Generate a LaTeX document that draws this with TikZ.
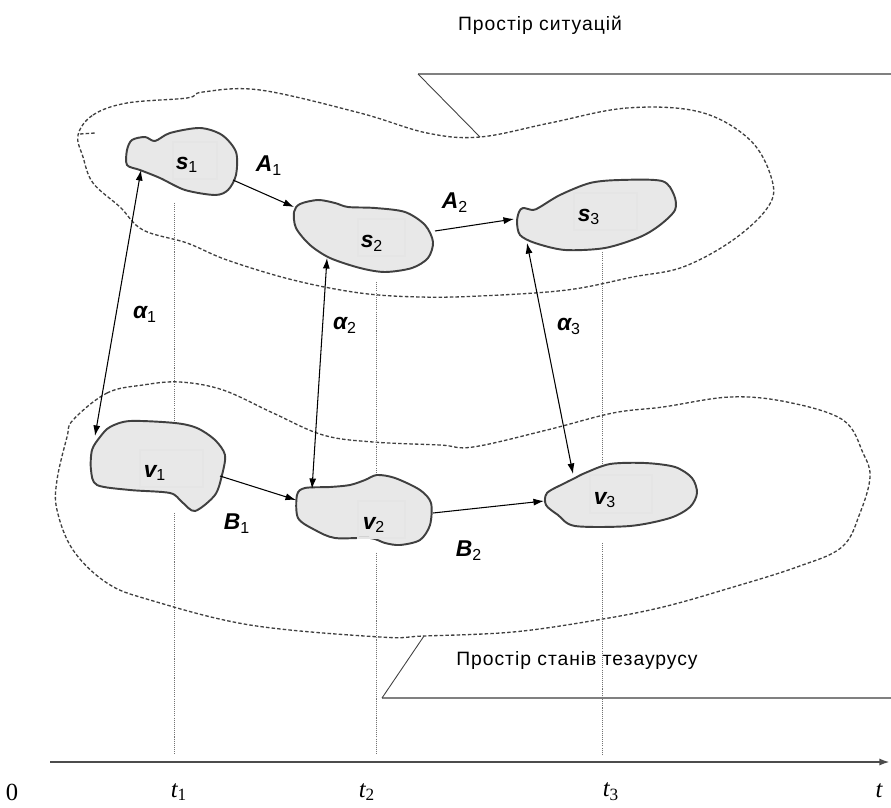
\documentclass[tikz,border=0pt]{standalone}
\usepackage{fontspec}
\setmainfont{Liberation Sans}
\newfontfamily\timefont{Liberation Serif}
\newfontfamily\capfont[LetterSpace=5]{Liberation Sans}
\usetikzlibrary{arrows.meta}
\newcommand{\idx}[1]{\textsubscript{\mdseries\upshape #1}}
\begin{document}
\begin{tikzpicture}[x=0.02cm,y=-0.02cm,>={Latex[length=6pt,width=4pt]},
	blob/.style={draw=black!75,line width=1.1pt,fill=gray!18},
	region/.style={draw=black!75,line width=0.75pt,dash pattern=on 2pt off 1.2pt},
	timeline/.style={draw=black!55,line width=0.5pt,dash pattern=on 0.6pt off 0.6pt},
	lblbox/.style={draw=white!90!black,line width=0.6pt},
	conn/.style={line width=0.6pt},
	lbl/.style={font=\fontsize{13}{15}\selectfont\bfseries\itshape,inner sep=0pt},
	caption/.style={font=\capfont\fontsize{11}{13}\selectfont,inner sep=0pt},
	tick/.style={font=\timefont\fontsize{14}{16}\selectfont\itshape,inner sep=0pt}]
	\useasboundingbox (0,0) rectangle (891,807);

	\draw[region] plot[smooth cycle,tension=0.6] coordinates {(78,135) (93,115) (127,103) (187,98) (203,92) (260,90) (360,113) (427,133) (480,137) (550,123) (627,108) (700,112) (750,140) (772,180) (768,207) (733,240) (683,267) (633,277) (567,290) (480,296) (420,297) (360,293) (293,280) (227,260) (187,243) (143,230) (120,207) (93,183) (83,157)};
	\draw[region] (80,134) -- (95,133);
	\draw[region] plot[smooth cycle,tension=0.6] coordinates {(73,420) (107,393) (143,385) (180,382) (223,390) (273,413) (323,435) (373,442) (440,445) (473,447) (547,430) (613,413) (663,407) (730,397) (787,402) (843,420) (863,453) (870,477) (860,513) (842,547) (797,567) (730,588) (663,607) (597,620) (513,632) (424,636) (380,637) (250,625) (150,600) (107,583) (73,550) (57,510) (57,480) (67,437)};

	\coordinate (capup)		at (418,74);
	\coordinate (capupend)	at (891,74);
	\coordinate (capuptip)	at (480,137);
	\coordinate (capdn)		at (382,698);
	\coordinate (capdnend)	at (891,698);
	\coordinate (capdntip)	at (424,636);
	\draw[draw=black!50,line width=1.1pt] (capup) -- (capupend);
	\draw[draw=black!75,line width=0.5pt] (capup) -- (capuptip);
	\draw[draw=black!50,line width=1.1pt] (capdn) -- (capdnend);
	\draw[draw=black!75,line width=0.5pt] (capdn) -- (capdntip);
	\node (sitspace)	at (540,25) [caption] {Простір ситуацій};
	\node (thesspace)	at (577,660) [caption] {Простір станів тезаурусу};

	\draw[timeline] (174,203) -- (174,433) (174,513) -- (174,755);
	\draw[timeline] (376,282) -- (376,485) (376,553) -- (376,755);
	\draw[timeline] (602,252) -- (602,470) (602,543) -- (602,755);

	\draw[blob] plot[smooth cycle,tension=0.5] coordinates {(127,150) (132,140) (145,137) (155,141) (170,133) (200,128) (222,135) (236,152) (236,175) (228,190) (215,195) (185,190) (160,178) (140,170) (127,165)};
	\draw[blob] plot[smooth cycle,tension=0.5] coordinates {(294,212) (300,204) (318,200) (335,203) (348,207) (375,208) (405,212) (425,225) (433,242) (428,258) (412,268) (385,272) (360,268) (330,258) (310,245) (296,228)};
	\draw[blob] plot[smooth cycle,tension=0.5] coordinates {(519,212) (523,208) (533,210) (540,207) (560,195) (590,183) (620,180) (662,181) (674,195) (675,210) (660,225) (640,237) (605,248) (565,250) (535,243) (520,235) (517,222)};
	\draw[blob] plot[smooth cycle,tension=0.5] coordinates {(92,450) (100,437) (110,427) (130,421) (175,423) (197,428) (215,440) (225,455) (222,475) (215,495) (195,511) (182,502) (170,493) (130,490) (97,485) (91,470)};
	\draw[blob] plot[smooth cycle,tension=0.5] coordinates {(297,495) (305,488) (330,487) (350,485) (365,480) (377,475) (395,478) (420,490) (431,503) (430,525) (420,540) (400,545) (385,543) (370,538) (335,538) (315,530) (298,518)};
	\draw[blob] plot[smooth cycle,tension=0.5] coordinates {(547,493) (565,483) (575,478) (585,473) (610,464) (645,463) (675,467) (692,478) (697,493) (690,507) (670,518) (630,526) (575,526) (558,515) (546,505)};

	\draw[lblbox] (173,142) rectangle (217,179);
	\draw[lblbox] (358,219) rectangle (405,256);
	\draw[lblbox] (574,193) rectangle (637,230);
	\draw[lblbox] (140,450) rectangle (203,487);
	\draw[lblbox] (358,501) rectangle (405,538);
	\draw[lblbox] (590,475) rectangle (652,513);

	\node (s1)	at (187,165) [lbl] {s\idx{1}};
	\node (s2)	at (372,243) [lbl] {s\idx{2}};
	\node (s3)	at (589,217) [lbl] {s\idx{3}};
	\node (v1)	at (155,473) [lbl] {v\idx{1}};
	\node (v2)	at (374,525) [lbl] {v\idx{2}};
	\node (v3)	at (605,500) [lbl] {v\idx{3}};

	\coordinate (s1out)	at (233,180);
	\coordinate (s1dn)	at (141,170);
	\coordinate (s2in)	at (294,207);
	\coordinate (s2out)	at (435,231);
	\coordinate (s2dn)	at (327,258);
	\coordinate (s3in)	at (514,219);
	\coordinate (s3dn)	at (527,243);
	\coordinate (v1up)	at (95,436);
	\coordinate (v1out)	at (220,476);
	\coordinate (v2in)	at (296,500);
	\coordinate (v2up)	at (312,489);
	\coordinate (v2out)	at (433,513);
	\coordinate (v3in)	at (544,501);
	\coordinate (v3up)	at (573,474);

	\path (s1out)	edge[->,conn] (s2in)
		(s2out)		edge[->,conn] (s3in)
		(v1out)		edge[->,conn] (v2in)
		(v2out)		edge[->,conn] (v3in)
		(s1dn)		edge[<->,conn] (v1up)
		(s2dn)		edge[<->,conn] (v2up)
		(s3dn)		edge[<->,conn] (v3up);

	\node (A1)	at (269,166) [lbl] {A\idx{1}};
	\node (A2)	at (455,203) [lbl] {A\idx{2}};
	\node (B1)	at (237,524) [lbl] {B\idx{1}};
	\node (B2)	at (469,551) [lbl] {B\idx{2}};
	\node (al1)	at (145,314) [lbl] {α\idx{1}};
	\node (al2)	at (345,325) [lbl] {α\idx{2}};
	\node (al3)	at (569,326) [lbl] {α\idx{3}};

	\coordinate (origin)	at (50,762);
	\coordinate (tend)		at (890,762);
	\draw[->,draw=black!70,line width=1.5pt] (origin) -- (tend);
	\node (zero)	at (12,792) [tick,font=\timefont\fontsize{14}{16}\selectfont\upshape] {0};
	\node (t1)		at (179,792) [tick] {t\idx{1}};
	\node (t2)		at (367,792) [tick] {t\idx{2}};
	\node (t3)		at (611,792) [tick] {t\idx{3}};
	\node (t)		at (879,791) [tick] {t};
\end{tikzpicture}
\end{document}
